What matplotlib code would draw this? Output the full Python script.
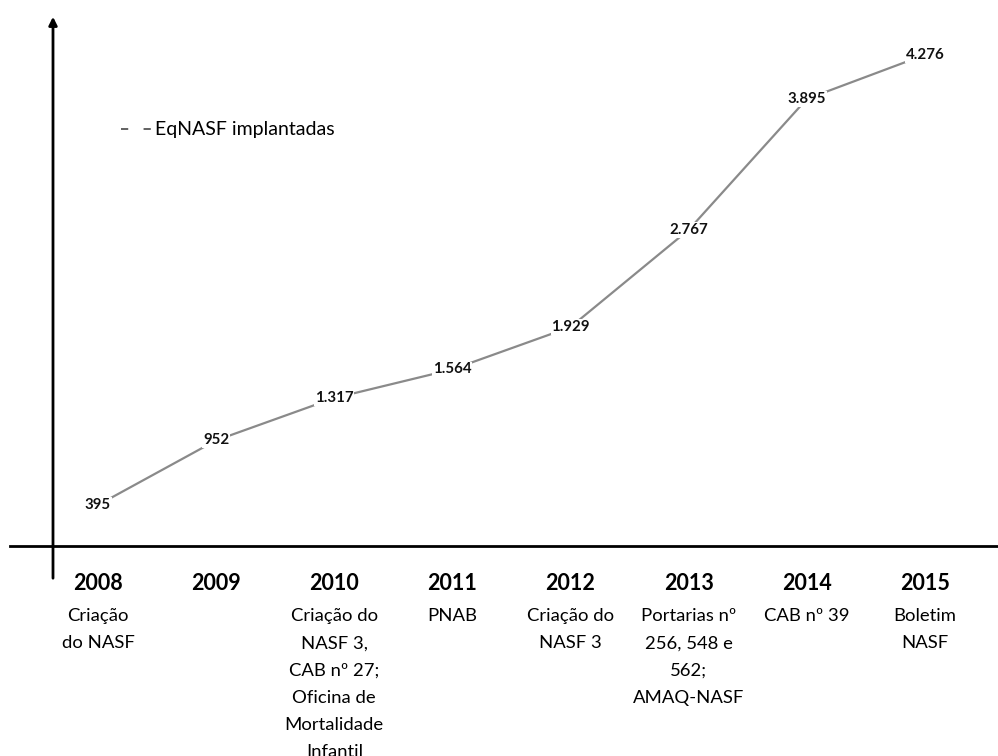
import matplotlib
matplotlib.use('Agg')
import matplotlib.pyplot as plt
from matplotlib.lines import Line2D

# data
years = [2008, 2009, 2010, 2011, 2012, 2013, 2014, 2015]
equipes = [395, 952, 1317, 1564, 1929, 2767, 3895, 4276]
value_labels = ['395', '952', '1.317', '1.564', '1.929', '2.767', '3.895', '4.276']
events = [
    'Criação\ndo NASF',
    '',
    'Criação do\nNASF 3,\nCAB nº 27;\nOficina de\nMortalidade\nInfantil',
    'PNAB',
    'Criação do\nNASF 3',
    'Portarias nº\n256, 548 e\n562;\nAMAQ-NASF',
    'CAB nº 39',
    'Boletim\nNASF',
]
series_name = 'EqNASF implantadas'

plt.rcParams['font.family'] = ['Lato', 'DejaVu Sans']

W, H = 998, 756
fig = plt.figure(figsize=(W / 100, H / 100), dpi=100)
ax = fig.add_axes([0, 0, 1, 1])
ax.set_axis_off()

# pixel -> data mapping
px_per_year = 118.14
x0 = 2008 - 98 / px_per_year
ax.set_xlim(x0, x0 + W / px_per_year)
units_per_px = 1 / 0.116
ax.set_ylim(-(H - 550.8) * units_per_px, 550.8 * units_per_px)

# the series
ax.plot(years, equipes, color='#8a8a8a', lw=1.6, zorder=2)
for x, y, s in zip(years, equipes, value_labels):
    ax.text(x, y, s, ha='center', va='center', fontsize=10.8, fontweight='bold',
            color='#111111',
            bbox=dict(facecolor='white', edgecolor='none', pad=0.5), zorder=3)

# hand-drawn axes
ax.plot([10 / W, 1], [1 - 546 / H, 1 - 546 / H], color='black', lw=2,
        transform=ax.transAxes, clip_on=False, zorder=1)
ax.annotate('', xy=(53 / W, 1 - 14 / H), xytext=(53 / W, 1 - 581 / H),
            xycoords='axes fraction', textcoords='axes fraction',
            arrowprops=dict(arrowstyle='-|>', color='black', lw=2, mutation_scale=12))

# year labels and events
tr = ax.get_xaxis_transform()
for x, ev in zip(years, events):
    ax.text(x, 1 - 583 / H, str(x), transform=tr, ha='center', va='center',
            fontsize=15.5, fontweight='bold')
    if ev:
        ax.text(x, 1 - 608 / H, ev, transform=tr, ha='center', va='top',
                fontsize=13.3, linespacing=1.86)

# legend
handle = Line2D([], [], color='#555555', lw=1.3, ls=(0, (4, 8.5)))
ax.legend([handle], [series_name], loc='center left', bbox_to_anchor=(113 / W, 1 - 130 / H),
          frameon=False, fontsize=14, handlelength=1.65, handletextpad=0.1,
          borderaxespad=0)

fig.savefig('out.png', dpi=100)
